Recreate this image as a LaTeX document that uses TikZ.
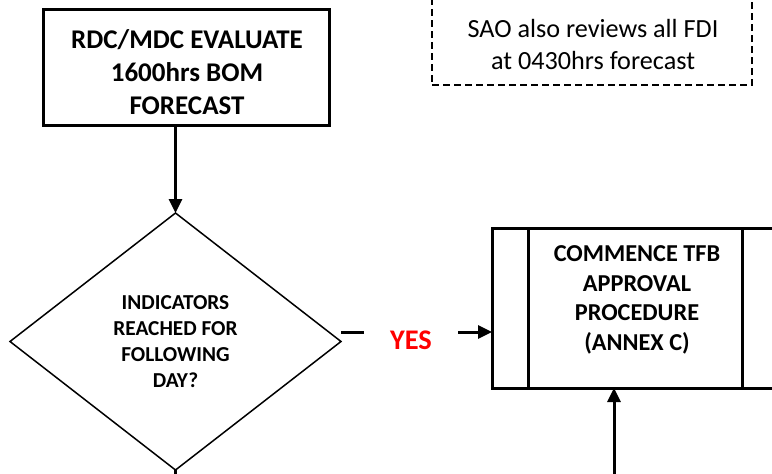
\documentclass[tikz,border=0pt]{standalone}
\usepackage{fontspec}
\setmainfont{Carlito}
\usetikzlibrary{arrows.meta,shapes.geometric}
\begin{document}
\begin{tikzpicture}[x=1pt,y=-1pt,
  frame/.style={draw,line width=3pt,inner sep=0pt,outer sep=0pt},
  decision/.style={draw,diamond,line width=1.5pt,inner sep=0pt,outer sep=0pt,align=center,
    minimum width=331pt,minimum height=257pt,font=\fontsize{21.3}{26}\selectfont\bfseries},
  notebox/.style={draw,dashed,dash pattern=on 7pt off 4pt,line width=2pt,inner sep=0pt,outer sep=0pt},
  boldtext/.style={align=center,inner sep=0pt},
  conn/.style={line width=3pt},
  arrow/.style={line width=3pt,-{Triangle[length=14pt,width=13pt]}},
  yeslabel/.style={text=red,font=\fontsize{28.4}{30}\selectfont\bfseries,minimum width=94pt,inner sep=0pt}
]
\useasboundingbox (0,0) rectangle (772,474);

% top process box
\node[frame,minimum width=286pt,minimum height=116pt] (t) at (186,67) {};
\node[boldtext,font=\fontsize{27}{33}\selectfont\bfseries] (tt) at (187,72) {RDC/MDC EVALUATE\\1600hrs BOM\\FORECAST};

% dashed note
\node[notebox,minimum width=320pt,minimum height=92pt] (n) at (592,39) {};
\node[boldtext,font=\fontsize{26.2}{32}\selectfont] (nt) at (593,44) {SAO also reviews all FDI\\at 0430hrs forecast};

% decision
\node[decision] (d) at (175.5,341.5) {INDICATORS\\REACHED FOR\\FOLLOWING\\DAY?};

% predefined process box
\node[frame,minimum width=286pt,minimum height=160pt] (p) at (635,308) {};
\draw[conn] ([xshift=36pt]p.north west) -- ([xshift=36pt]p.south west);
\draw[conn] ([xshift=-36pt]p.north east) -- ([xshift=-36pt]p.south east);
\node[boldtext,font=\fontsize{24.3}{29.7}\selectfont\bfseries] (pt) at (637,300) {COMMENCE TFB\\APPROVAL\\PROCEDURE\\(ANNEX C)};

% connectors
\draw[arrow] (t.south -| d.north) -- (d.north);

\coordinate (yesstart) at (341,332);
\node[yeslabel] (yes) at (411,340) {YES};
\draw[conn] (yesstart) -- (yes.west |- yesstart);
\draw[arrow] (yes.east |- yesstart) -- (p.west |- yesstart);

\coordinate (dend) at (175.5,490);
\draw[conn] (d.south) -- (dend);

\coordinate (pin) at (614,490);
\draw[arrow] (pin) -- (pin |- p.south);
\end{tikzpicture}
\end{document}
